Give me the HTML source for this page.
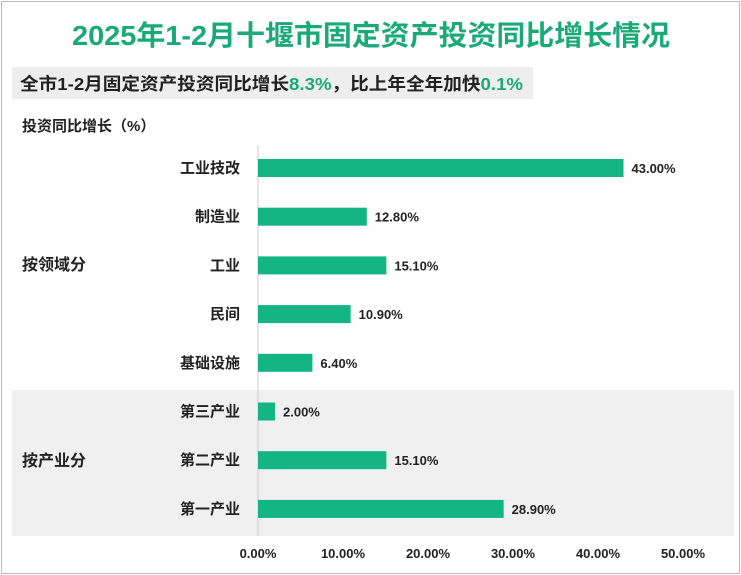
<!DOCTYPE html>
<html><head><meta charset="utf-8"><style>
body{margin:0;width:741px;height:575px;background:#fff;font-family:"Liberation Sans","Noto Sans CJK SC",sans-serif;overflow:hidden}
#frame{position:absolute;left:1px;top:1px;width:737px;height:571px;border:1px solid #bbb}
</style></head><body>
<div id="frame"></div>
<svg width="741" height="575" style="position:absolute;left:0;top:0" font-family="Liberation Sans, Noto Sans CJK SC, sans-serif">
<text x="72" y="45" textLength="598" lengthAdjust="spacingAndGlyphs" font-size="28" font-weight="bold" fill="#1aaa78">2025年1-2月十堰市固定资产投资同比增长情况</text>
<rect x="12" y="67" width="521" height="32" fill="#eeeeee"/>
<text x="20" y="90" textLength="503" lengthAdjust="spacingAndGlyphs" font-size="17.5" font-weight="bold" fill="#222">全市1-2月固定资产投资同比增长<tspan fill="#1aaa78">8.3%</tspan>，比上年全年加快<tspan fill="#1aaa78">0.1%</tspan></text>
<text x="22" y="131" font-size="15" font-weight="bold" fill="#222">投资同比增长（%）</text>
<rect x="12" y="390" width="722" height="146" fill="#f0f0f0"/>
<text x="22" y="270" font-size="16" font-weight="bold" fill="#222">按领域分</text>
<text x="22" y="466" font-size="16" font-weight="bold" fill="#222">按产业分</text>
<line x1="258" y1="145" x2="258" y2="536" stroke="#ccc"/>
<g id="bars"></g>
<g id="ticks"></g>
</svg>
<script>
const categories=["工业技改","制造业","工业","民间","基础设施","第三产业","第二产业","第一产业"];
const values=[43.0,12.8,15.1,10.9,6.4,2.0,15.1,28.9];
const tickValues=[0,10,20,30,40,50];
const x0=258,pxPer=8.5,rowTop=168,rowStep=48.7,bh=18;
const xs=v=>x0+v*pxPer;
const ys=i=>rowTop+i*rowStep;
const NS="http://www.w3.org/2000/svg";
const bars=document.getElementById('bars'),ticks=document.getElementById('ticks');
categories.forEach((c,i)=>{
 const y=ys(i);
 const r=document.createElementNS(NS,'rect');
 r.setAttribute('x',x0);r.setAttribute('y',y-bh/2);r.setAttribute('width',xs(values[i])-x0);r.setAttribute('height',bh);r.setAttribute('fill','#13b583');
 
 
 bars.appendChild(r);
 const l=document.createElementNS(NS,'text');
 l.setAttribute('x',240);l.setAttribute('y',y+5);l.setAttribute('text-anchor','end');l.setAttribute('font-size','15');l.setAttribute('font-weight','bold');l.setAttribute('fill','#222');l.textContent=c;
 
 
 bars.appendChild(l);
 const v=document.createElementNS(NS,'text');
 v.setAttribute('x',xs(values[i])+8);v.setAttribute('y',y+5);v.setAttribute('font-size','13');v.setAttribute('font-weight','bold');v.setAttribute('fill','#222');v.textContent=values[i].toFixed(2)+'%';
 
 
 bars.appendChild(v);
});
tickValues.forEach(t=>{
 const s=document.createElementNS(NS,'text');
 s.setAttribute('x',xs(t));s.setAttribute('y',558);s.setAttribute('text-anchor','middle');s.setAttribute('font-size','13');s.setAttribute('font-weight','bold');s.setAttribute('fill','#222');s.textContent=t.toFixed(2)+'%';
 
 
 ticks.appendChild(s);
});
</script>
</body></html>
